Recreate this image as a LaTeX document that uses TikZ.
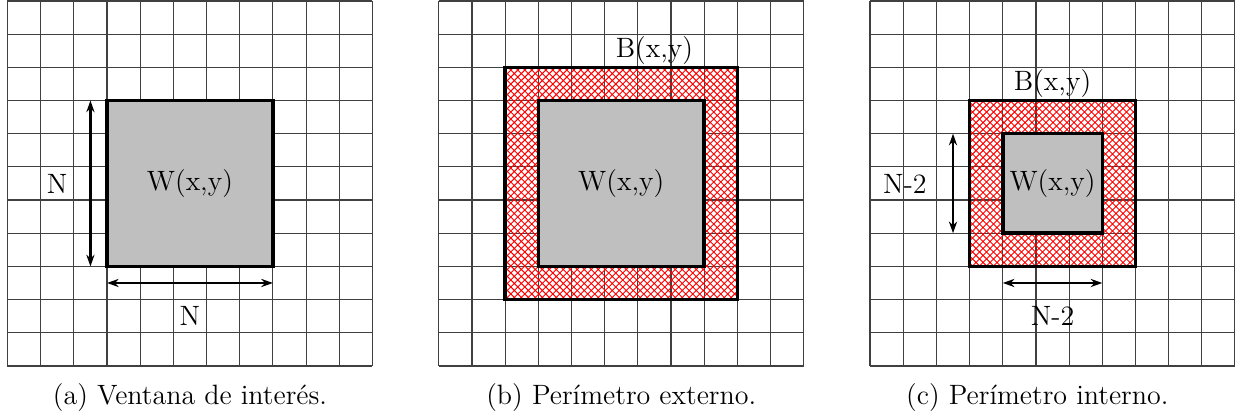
\documentclass[tikz,border=0pt]{standalone}
\usetikzlibrary{patterns,arrows.meta}
\begin{document}
\begin{tikzpicture}[x=0.5cm,y=0.5cm,
  gridline/.style={line width=0.5pt,draw=black!75},
  wbox/.style={fill=lightgray,draw=black,line width=1.5pt},
  bbox/.style={pattern=crosshatch,pattern color=red,draw=black,line width=1.5pt},
  dimarrow/.style={line width=1pt,{Stealth[length=5pt,width=3.5pt]}-{Stealth[length=5pt,width=3.5pt]}},
  lbl/.style={font=\large,inner sep=1pt},
  captext/.style={font=\large}]
\fill[white] (-0.226,-1.63) rectangle (37.0,11.03);
\useasboundingbox (-0.226,-1.63) rectangle (37.0,11.03);
% (a)
\begin{scope}
  \draw[gridline,step={(1,1)}] (0,0) grid (11,11);
  \draw[wbox] (3,3) rectangle (8,8);
  \node[lbl] (wa) at (5.5,5.5) {W(x,y)};
  \coordinate (av1) at (2.5,3); \coordinate (av2) at (2.5,8);
  \coordinate (ah1) at (3,2.5); \coordinate (ah2) at (8,2.5);
  \draw[dimarrow] (av1) -- (av2);
  \draw[dimarrow] (ah1) -- (ah2);
  \node[lbl] (na1) at (1.5,5.5) {N};
  \node[lbl] (na2) at (5.5,1.5) {N};
  \node[captext] (capa) at (5.5,-0.96) {(a) Ventana de interés.};
\end{scope}
% (b)
\begin{scope}[shift={(13,0)}]
  \draw[gridline,step={(1,1)}] (0,0) grid (11,11);
  \draw[bbox] (2,2) rectangle (9,9);
  \draw[wbox] (3,3) rectangle (8,8);
  \node[lbl] (wb) at (5.5,5.5) {W(x,y)};
  \node[lbl] (bb) at (6.5,9.5) {B(x,y)};
  \node[captext] (capb) at (5.5,-0.96) {(b) Perímetro externo.};
\end{scope}
% (c)
\begin{scope}[shift={(26,0)}]
  \draw[gridline,step={(1,1)}] (0,0) grid (11,11);
  \draw[bbox] (3,3) rectangle (8,8);
  \draw[wbox] (4,4) rectangle (7,7);
  \node[lbl] (wc) at (5.5,5.5) {W(x,y)};
  \node[lbl] (bc) at (5.5,8.5) {B(x,y)};
  \coordinate (cv1) at (2.5,4); \coordinate (cv2) at (2.5,7);
  \coordinate (ch1) at (4,2.5); \coordinate (ch2) at (7,2.5);
  \draw[dimarrow] (cv1) -- (cv2);
  \draw[dimarrow] (ch1) -- (ch2);
  \node[lbl] (nc1) at (1.05,5.5) {N-2};
  \node[lbl] (nc2) at (5.5,1.5) {N-2};
  \node[captext] (capc) at (5.04,-0.96) {(c) Perímetro interno.};
\end{scope}
\end{tikzpicture}
\end{document}
